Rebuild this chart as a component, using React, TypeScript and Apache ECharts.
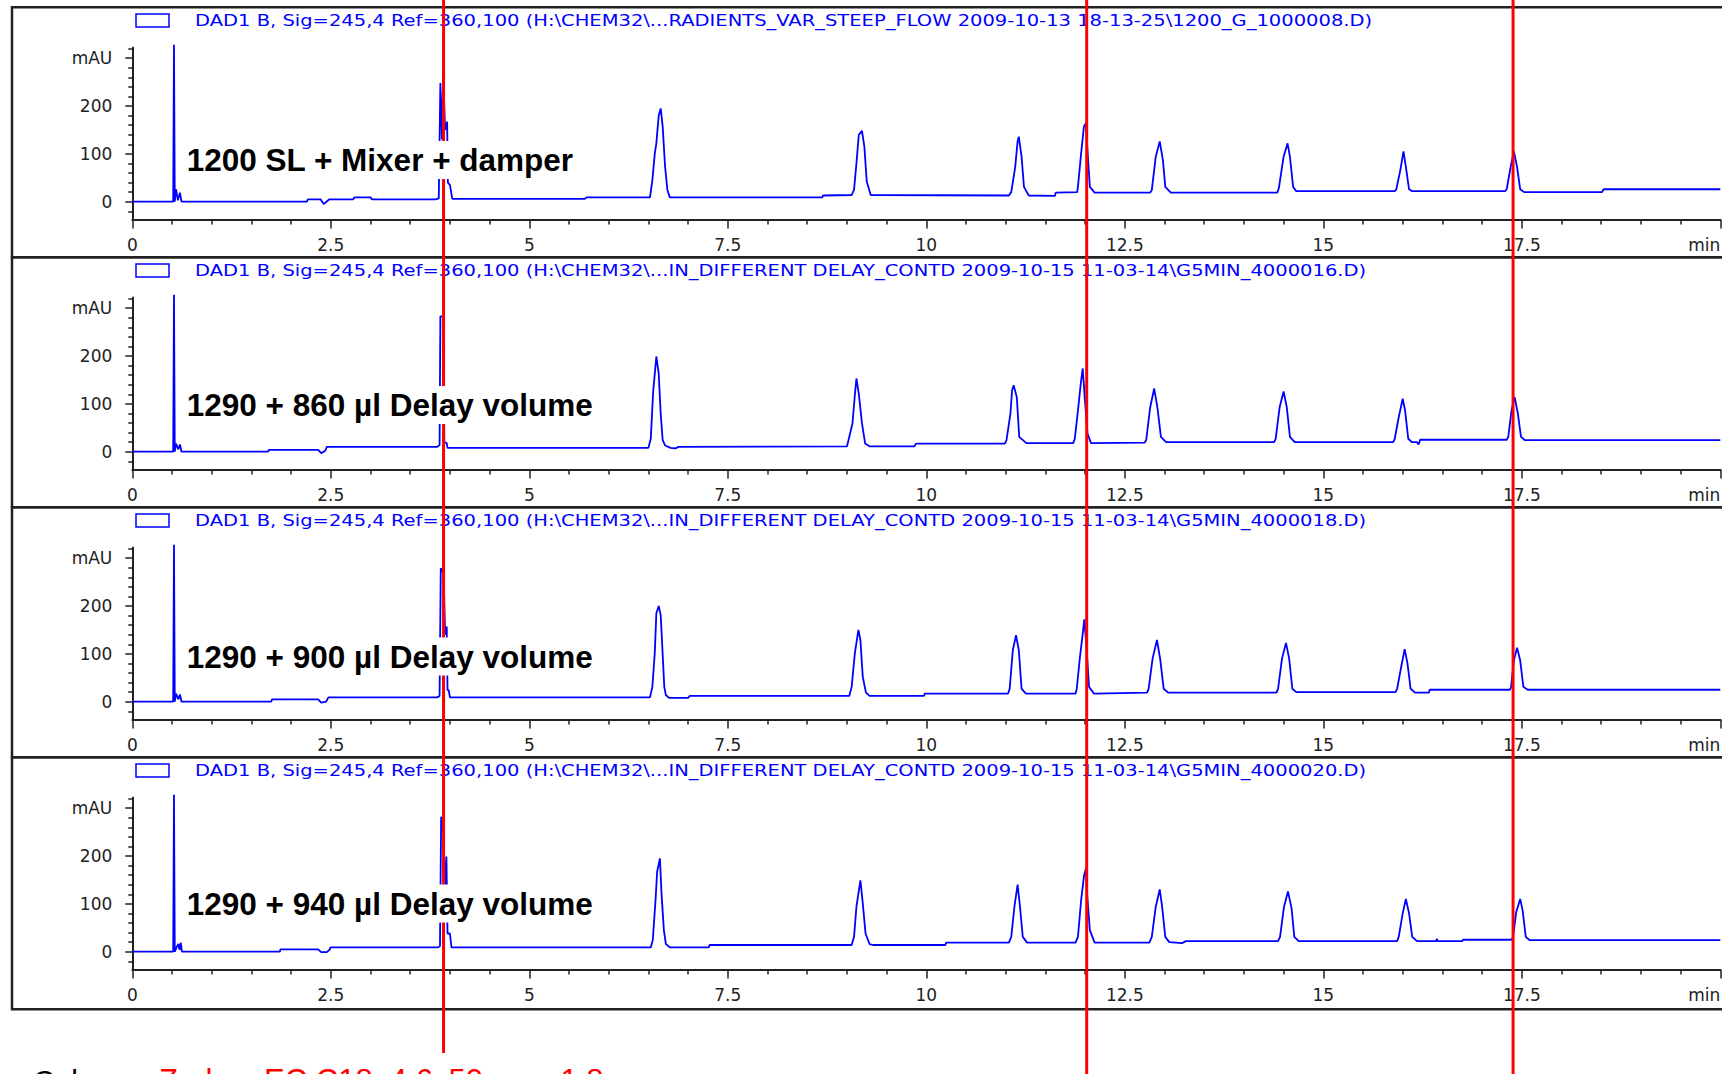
import React, { useEffect, useRef } from "react";
import * as echarts from "echarts";

// ---------- data ----------
const X_TICK_VALUES = [0, 2.5, 5, 7.5, 10, 12.5, 15, 17.5, 20];
const X_TICK_LABELS = ["0", "2.5", "5", "7.5", "10", "12.5", "15", "17.5", "min"];
const Y_MAJOR_VALUES = [0, 100, 200, 300];
const Y_MAJOR_LABELS = ["0", "100", "200", "mAU"];
const Y_MINOR_VALUES = [-20, 20, 40, 60, 80, 120, 140, 160, 180, 220, 240, 260, 280, 320];
const X_MIN = 0;
const X_MAX = 20;
const Y_MIN = -37;
const Y_MAX = 322;

const HEADERS = [
  "DAD1 B, Sig=245,4 Ref=360,100 (H:\\CHEM32\\...RADIENTS_VAR_STEEP_FLOW 2009-10-13 18-13-25\\1200_G_1000008.D)",
  "DAD1 B, Sig=245,4 Ref=360,100 (H:\\CHEM32\\...IN_DIFFERENT DELAY_CONTD 2009-10-15 11-03-14\\G5MIN_4000016.D)",
  "DAD1 B, Sig=245,4 Ref=360,100 (H:\\CHEM32\\...IN_DIFFERENT DELAY_CONTD 2009-10-15 11-03-14\\G5MIN_4000018.D)",
  "DAD1 B, Sig=245,4 Ref=360,100 (H:\\CHEM32\\...IN_DIFFERENT DELAY_CONTD 2009-10-15 11-03-14\\G5MIN_4000020.D)",
];

const PANEL_LABELS = [
  "1200 SL + Mixer + damper",
  "1290 + 860 µl Delay volume",
  "1290 + 900 µl Delay volume",
  "1290 + 940 µl Delay volume",
];

const RED_LINE_TIMES = [3.92, 12.02, 17.39];

const FOOT_BLACK = "Column:";
const FOOT_RED = "Zorbax EC C18, 4.6x50 mm, 1.8 µm";

// time (min), absorbance (mAU)
const TRACE_1200_SL: number[][] = [
  [0, 0], [0.515, 0], [0.525, 328], [0.535, 0], [0.55, 26], [0.575, 3], [0.6, 19], [0.62, 0],
  [2.2, 0], [2.21, 5], [2.37, 5], [2.41, -5], [2.46, 2], [2.48, 5], [2.78, 5], [2.8, 9], [3.0, 9], [3.02, 5],
  [3.82, 5], [3.86, 7], [3.88, 248], [3.9, 130], [3.915, 265], [3.94, 150], [3.965, 167], [3.975, 40], [4.0, 35], [4.03, 6],
  [5.7, 6], [5.72, 9], [6.52, 9], [6.55, 45], [6.58, 100], [6.6, 122], [6.63, 180], [6.655, 195], [6.68, 157], [6.71, 73], [6.74, 24], [6.77, 9],
  [8.69, 9], [8.7, 13], [9.06, 14], [9.09, 25], [9.12, 80], [9.15, 140], [9.19, 148], [9.22, 115], [9.25, 42], [9.3, 14],
  [11.04, 13], [11.07, 20], [11.12, 73], [11.15, 126], [11.165, 136], [11.2, 94], [11.23, 31], [11.29, 13],
  [11.62, 12], [11.63, 19], [11.9, 20], [11.91, 31], [11.95, 101], [11.985, 157], [12.01, 164], [12.03, 108], [12.06, 31], [12.12, 19],
  [12.82, 19], [12.84, 24], [12.89, 94], [12.94, 126], [12.98, 87], [13.01, 31], [13.08, 19],
  [14.42, 19], [14.44, 28], [14.5, 94], [14.55, 122], [14.58, 94], [14.62, 31], [14.66, 22],
  [15.9, 22], [15.92, 26], [15.97, 66], [16.01, 105], [16.04, 73], [16.08, 26], [16.12, 22],
  [17.29, 22], [17.31, 26], [17.36, 73], [17.4, 105], [17.44, 73], [17.48, 26], [17.53, 20],
  [18.51, 20], [18.53, 26], [20, 26],
];

const TRACE_1290_860: number[][] = [
  [0, 0], [0.515, 0], [0.525, 328], [0.535, 0], [0.55, 17], [0.58, 5], [0.6, 15], [0.62, 0],
  [1.71, 0], [1.72, 4], [2.34, 4], [2.38, -3], [2.43, 2], [2.45, 10], [3.84, 10], [3.87, 14],
  [3.88, 283], [3.915, 283], [3.93, 20], [3.96, 18], [3.97, 8],
  [6.5, 8], [6.53, 27], [6.56, 125], [6.6, 199], [6.63, 163], [6.655, 79], [6.68, 24], [6.71, 13], [6.78, 8], [6.84, 7], [6.88, 10],
  [9.0, 11], [9.02, 24], [9.07, 59], [9.1, 118], [9.12, 153], [9.15, 121], [9.19, 59], [9.23, 17], [9.29, 11],
  [9.85, 11], [9.87, 17], [10.99, 17], [11.01, 24], [11.06, 80], [11.08, 128], [11.1, 139], [11.14, 114], [11.17, 31], [11.26, 18],
  [11.85, 18], [11.87, 27], [11.91, 86], [11.945, 142], [11.97, 174], [11.995, 114], [12.03, 38], [12.075, 18],
  [12.75, 19], [12.77, 25], [12.82, 93], [12.87, 132], [12.91, 93], [12.955, 31], [13.02, 20],
  [14.38, 20], [14.4, 27], [14.45, 93], [14.5, 126], [14.54, 93], [14.58, 31], [14.64, 20],
  [15.88, 20], [15.9, 27], [15.95, 72], [16.0, 111], [16.03, 86], [16.07, 27], [16.115, 20], [16.18, 20], [16.2, 15], [16.21, 20], [16.22, 25],
  [17.31, 25], [17.33, 31], [17.37, 86], [17.41, 114], [17.45, 80], [17.49, 31], [17.54, 24], [20, 24],
];

const TRACE_1290_900: number[][] = [
  [0, 0], [0.515, 0], [0.525, 328], [0.535, 0], [0.55, 17], [0.58, 5], [0.6, 15], [0.62, 0],
  [1.75, 0], [1.76, 5], [2.34, 5], [2.38, -2], [2.44, 0], [2.47, 9], [3.84, 9], [3.87, 12],
  [3.885, 279], [3.92, 270], [3.94, 140], [3.96, 157], [3.97, 24], [3.985, 24], [4.0, 9],
  [6.52, 9], [6.55, 31], [6.58, 101], [6.6, 185], [6.63, 200], [6.655, 181], [6.68, 98], [6.7, 31], [6.72, 14], [6.76, 8], [7.0, 8], [7.02, 12],
  [9.03, 12], [9.06, 31], [9.1, 101], [9.145, 150], [9.17, 129], [9.2, 52], [9.24, 19], [9.285, 12],
  [9.97, 12], [9.98, 17], [11.03, 17], [11.05, 27], [11.09, 108], [11.13, 139], [11.165, 108], [11.2, 27], [11.255, 17],
  [11.88, 17], [11.895, 27], [11.935, 93], [11.97, 142], [11.99, 172], [12.02, 108], [12.05, 31], [12.11, 17],
  [12.78, 19], [12.8, 27], [12.85, 90], [12.905, 129], [12.945, 90], [12.99, 27], [13.045, 19],
  [14.41, 19], [14.43, 27], [14.48, 90], [14.53, 123], [14.57, 90], [14.61, 27], [14.66, 20],
  [15.91, 20], [15.93, 27], [15.98, 72], [16.025, 110], [16.06, 80], [16.1, 27], [16.155, 19], [16.33, 19], [16.34, 25],
  [17.35, 25], [17.365, 31], [17.4, 86], [17.44, 113], [17.48, 86], [17.52, 31], [17.575, 25], [20, 25],
];

const TRACE_1290_940: number[][] = [
  [0, 0], [0.515, 0], [0.525, 328], [0.535, 0], [0.56, 10], [0.58, 16], [0.595, 4], [0.61, 19], [0.625, 0],
  [1.86, 0], [1.865, 5], [2.34, 5], [2.38, -1], [2.45, -1], [2.49, 5], [2.495, 9], [3.85, 9], [3.875, 12],
  [3.89, 282], [3.92, 250], [3.94, 120], [3.956, 199], [3.97, 38], [4.0, 38], [4.02, 9],
  [6.53, 9], [6.555, 24], [6.59, 108], [6.61, 167], [6.645, 195], [6.665, 122], [6.695, 45], [6.72, 16], [6.77, 9],
  [7.26, 9], [7.27, 14], [9.06, 14], [9.09, 31], [9.12, 94], [9.17, 149], [9.2, 101], [9.235, 38], [9.285, 16], [9.33, 14],
  [10.24, 14], [10.25, 19], [11.04, 19], [11.07, 31], [11.11, 94], [11.15, 140], [11.18, 94], [11.215, 31], [11.27, 19],
  [11.88, 19], [11.91, 31], [11.95, 108], [11.985, 157], [12.01, 174], [12.025, 122], [12.06, 45], [12.12, 19],
  [12.81, 19], [12.84, 31], [12.89, 94], [12.94, 130], [12.97, 94], [13.01, 31], [13.06, 20], [13.22, 18], [13.27, 22],
  [14.43, 22], [14.455, 31], [14.505, 94], [14.555, 126], [14.6, 91], [14.635, 31], [14.69, 22],
  [15.93, 22], [15.95, 31], [16.0, 80], [16.04, 110], [16.08, 80], [16.12, 31], [16.18, 22], [16.42, 22], [16.43, 27], [16.44, 22], [16.75, 22], [16.76, 25],
  [17.37, 25], [17.39, 31], [17.43, 83], [17.48, 110], [17.51, 87], [17.55, 31], [17.6, 24], [20, 24],
];

const TRACES = [TRACE_1200_SL, TRACE_1290_860, TRACE_1290_900, TRACE_1290_940];

// ---------- layout ----------
const W = 1722;
const H = 1074;
const PANEL_TOPS = [7.3, 257.3, 507.3, 757.3];
const PANEL_HEIGHTS = [250, 250, 250, 252];
const ZERO_OFFSET = 194.4;
const PX_PER_UNIT = 0.4785;
const GRID_LEFT = 132.3;
const GRID_WIDTH = 1588;
const LABEL_Y = [160, 405, 656.5, 903.5];
const BLUE = "#0000ff";
const AXIS_COLOR = "#222";
const TICK_FONT = "DejaVu Sans";

function labelFor(v: number) {
  const i = X_TICK_VALUES.findIndex((t) => Math.abs(t - v) < 1e-6);
  return i >= 0 ? X_TICK_LABELS[i] : "";
}
function yLabelFor(v: number) {
  const i = Y_MAJOR_VALUES.findIndex((t) => Math.abs(t - v) < 1e-6);
  return i >= 0 ? Y_MAJOR_LABELS[i] : "";
}

export default function App() {
  const ref = useRef<HTMLDivElement>(null);
  useEffect(() => {
    if (!ref.current) return;
    const chart = echarts.init(ref.current, null, { renderer: "svg" });
    const grids: any[] = [];
    const xAxes: any[] = [];
    const yAxes: any[] = [];
    const series: any[] = [];
    PANEL_TOPS.forEach((T, i) => {
      const zeroY = T + ZERO_OFFSET;
      const top = zeroY - Y_MAX * PX_PER_UNIT;
      const height = (Y_MAX - Y_MIN) * PX_PER_UNIT;
      grids.push({
        left: GRID_LEFT,
        width: GRID_WIDTH,
        top,
        height,
        containLabel: false,
        outerBoundsMode: "none",
      });
      xAxes.push({
        type: "value",
        gridIndex: i,
        min: X_MIN,
        max: X_MAX,
        interval: 2.5,
        axisLine: { show: true, onZero: false, lineStyle: { color: AXIS_COLOR, width: 2 } },
        axisTick: { show: true, length: 9, lineStyle: { color: AXIS_COLOR, width: 1.5 } },
        minorTick: { show: true, splitNumber: 5, length: 5, lineStyle: { color: AXIS_COLOR, width: 1.5 } },
        splitLine: { show: false },
        minorSplitLine: { show: false },
        axisLabel: {
          color: AXIS_COLOR,
          fontFamily: TICK_FONT,
          fontSize: 17,
          margin: 17,
          showMaxLabel: true,
          showMinLabel: true,
          alignMaxLabel: "right",
          formatter: (v: number) => labelFor(v),
        },
      });
      yAxes.push({
        type: "value",
        gridIndex: i,
        min: Y_MIN,
        max: Y_MAX,
        position: "left",
        axisLine: { show: true, onZero: false, lineStyle: { color: AXIS_COLOR, width: 2 } },
        axisTick: { show: true, length: 7, customValues: Y_MAJOR_VALUES, lineStyle: { color: AXIS_COLOR, width: 1.5 } },
        splitLine: { show: false },
        axisLabel: {
          color: AXIS_COLOR,
          fontFamily: TICK_FONT,
          fontSize: 17,
          margin: 20,
          customValues: Y_MAJOR_VALUES,
          formatter: (v: number) => yLabelFor(v),
        },
      });
      yAxes.push({
        type: "value",
        gridIndex: i,
        min: Y_MIN,
        max: Y_MAX,
        position: "left",
        axisLine: { show: false },
        axisTick: { show: true, length: 4, customValues: Y_MINOR_VALUES, lineStyle: { color: AXIS_COLOR, width: 1.5 } },
        splitLine: { show: false },
        axisLabel: { show: false },
      });
      series.push({
        type: "line",
        xAxisIndex: i,
        yAxisIndex: i * 2,
        data: TRACES[i],
        showSymbol: false,
        symbol: "none",
        clip: false,
        z: 3,
        silent: true,
        lineStyle: { color: BLUE, width: 1.8 },
      });
    });

    chart.setOption({
      animation: false,
      backgroundColor: "#ffffff",
      grid: grids,
      xAxis: xAxes,
      yAxis: yAxes,
      series,
    });

    const redXs = RED_LINE_TIMES.map((t) => chart.convertToPixel({ xAxisIndex: 0 }, t) as number);
    const graphics: any[] = [];
    PANEL_TOPS.forEach((T, i) => {
      graphics.push({
        type: "rect",
        z: 0,
        silent: true,
        shape: { x: 12, y: T, width: 1800, height: PANEL_HEIGHTS[i] },
        style: { fill: "none", stroke: AXIS_COLOR, lineWidth: 2.5 },
      });
      graphics.push({
        type: "rect",
        z: 1,
        silent: true,
        shape: { x: 136, y: T + 6.7, width: 33, height: 13 },
        style: { fill: "none", stroke: BLUE, lineWidth: 1.5 },
      });
      graphics.push({
        type: "text",
        z: 1,
        silent: true,
        x: 195,
        y: T + 13.2,
        scaleX: 1.22,
        style: {
          text: HEADERS[i],
          fill: BLUE,
          fontFamily: TICK_FONT,
          fontSize: 16,
          verticalAlign: "middle",
          align: "left",
        },
      });
      graphics.push({
        type: "text",
        z: 6,
        silent: true,
        x: 182.7,
        y: LABEL_Y[i],
        style: {
          text: PANEL_LABELS[i],
          fill: "#000",
          fontFamily: "Liberation Sans, Arial, sans-serif",
          fontWeight: "bold",
          fontSize: 31.5,
          backgroundColor: "#ffffff",
          padding: [3, 4, 3, 4],
          verticalAlign: "middle",
          align: "left",
        },
      });
    });
    redXs.forEach((x, k) => {
      graphics.push({
        type: "line",
        z: 5,
        silent: true,
        shape: { x1: x, y1: 0, x2: x, y2: k === 0 ? 1053 : H },
        style: { stroke: "#ff0000", lineWidth: 3 },
      });
    });
    graphics.push({
      type: "text",
      z: 6,
      silent: true,
      x: 33,
      y: 1080,
      style: { text: FOOT_BLACK, fill: "#000", fontFamily: "Liberation Sans, Arial, sans-serif", fontSize: 30, verticalAlign: "middle" },
    });
    graphics.push({
      type: "text",
      z: 6,
      silent: true,
      x: 159,
      y: 1080,
      style: { text: FOOT_RED, fill: "#ff0000", fontFamily: "Liberation Sans, Arial, sans-serif", fontSize: 31, verticalAlign: "middle" },
    });
    chart.setOption({ graphic: graphics });

    return () => chart.dispose();
  }, []);

  return (
    <div
      ref={ref}
      style={{ position: "absolute", left: 0, top: 0, width: W, height: H, background: "#fff" }}
    />
  );
}
